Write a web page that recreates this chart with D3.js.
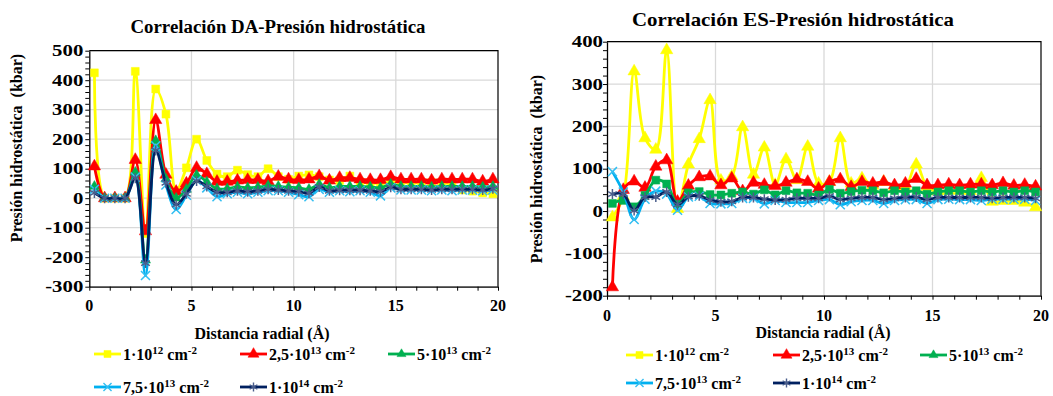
<!DOCTYPE html>
<html><head><meta charset="utf-8">
<script src="https://cdn.jsdelivr.net/npm/d3@7"></script>
<style>
body{margin:0;background:#fff}
svg{display:block}
text{font-family:"Liberation Serif","Times New Roman",serif;font-weight:bold;fill:#000}
</style>
</head><body><svg id="c" width="1053" height="396"></svg>
<script>
// ---------- data ----------
const radialDistance = [0.25,0.75,1.25,1.75,2.25,2.75,3.25,3.75,4.25,4.75,5.25,5.75,6.25,6.75,7.25,7.75,8.25,8.75,9.25,9.75,
  10.25,10.75,11.25,11.75,12.25,12.75,13.25,13.75,14.25,14.75,15.25,15.75,16.25,16.75,17.25,17.75,18.25,18.75,19.25,19.75];

const seriesBase = ["1·10", "2,5·10", "5·10", "7,5·10", "1·10"];
const seriesExp  = ["12", "13", "13", "13", "14"];

// Left chart: Correlación DA
const daTitle = "Correlación DA-Presión hidrostática";
const daYTicks = [-300,-200,-100,0,100,200,300,400,500];
const da_1e12   = [425,0,0,0,430,-120,370,285,25,103,200,128,82,73,95,80,73,100,73,64,75,79,73,62,60,75,55,52,50,58,55,52,52,53,52,48,28,24,18,15];
const da_25e13  = [108,0,0,0,130,-112,265,80,22,50,103,82,56,56,60,62,62,58,73,64,62,64,75,60,69,69,64,62,62,72,64,64,64,60,64,64,64,64,57,64];
const da_5e13   = [40,0,0,0,88,-210,195,65,0,30,78,55,32,32,38,35,37,42,40,37,35,30,47,35,40,40,40,38,35,48,40,40,40,38,40,40,40,40,38,40];
const da_75e13  = [30,0,0,0,72,-262,178,45,-38,10,60,35,5,15,20,15,20,25,25,20,12,5,30,20,25,22,25,20,8,35,28,28,28,25,28,25,28,28,25,28];
const da_1e14   = [18,0,0,0,68,-220,162,52,-22,15,58,40,20,20,25,22,25,30,28,25,22,17,38,25,27,27,27,25,22,37,30,30,30,28,30,30,30,30,28,32];

// Right chart: Correlación ES
const esTitle = "Correlación ES-Presión hidrostática";
const esYTicks = [-200,-100,0,100,200,300,400];
const es_1e12   = [-15,35,330,172,145,380,5,110,170,262,72,82,198,86,150,62,122,73,152,65,69,172,65,77,60,69,57,57,110,57,46,48,48,47,78,22,24,24,20,9];
const es_25e13  = [-180,50,70,55,105,120,22,60,80,82,61,77,47,67,62,59,67,75,69,53,69,75,57,69,65,69,61,65,76,61,61,63,61,63,63,61,66,60,62,58];
const es_5e13   = [18,25,10,37,73,64,16,43,46,39,38,42,45,40,50,38,48,43,42,38,51,42,46,49,48,43,48,45,48,40,45,48,48,45,48,45,48,45,48,45];
const es_75e13  = [93,45,-20,28,47,40,2,33,35,18,17,18,30,30,17,25,20,20,20,25,27,15,22,25,25,18,25,27,27,18,27,28,27,27,25,28,28,28,28,25];
const es_1e14   = [40,40,1,33,33,45,15,34,36,26,22,23,32,32,28,26,27,30,30,30,35,27,30,32,32,27,30,32,33,27,32,32,32,32,32,30,32,32,32,30];

const xTicks = [0,5,10,15,20];
const xLabel = "Distancia radial (Å)";
const yLabel = "Presión hidrostática  (kbar)";

// ---------- styles ----------
const colors = ["#FFFF00","#FF0000","#00B050","#00B0F0","#002060"];
const markerStroke = ["#FFFF00","#FF0000","#00B050","#33BFF2","#4A5E8C"];
const sym = {
  square: {type: d3.symbolSquare, size: 62, fill: true},
  tri: {type: d3.symbolTriangle, size: 66, fill: true},
  triS: {type: d3.symbolTriangle, size: 44, fill: true},
  times: {type: d3.symbolTimes, size: 55, fill: false},
  star: {type: d3.symbolAsterisk, size: 70, fill: false}
};

const svg = d3.select("#c");

function drawChart(cfg) {
  const x = d3.scaleLinear().domain([0,20]).range([cfg.x0, cfg.x1]);
  const y = d3.scaleLinear().domain([cfg.yTicks[0], cfg.yTicks[cfg.yTicks.length-1]]).range([cfg.yBot, cfg.yTop]);
  const g = svg.append("g");

  // gridlines
  g.selectAll(".hg").data(cfg.yTicks).join("line")
    .attr("x1", cfg.x0).attr("x2", cfg.x1)
    .attr("y1", d => y(d)).attr("y2", d => y(d))
    .attr("stroke", "#d9d9d9").attr("stroke-width", 1.3);
  g.selectAll(".vg").data(xTicks.slice(1, -1)).join("line")
    .attr("x1", d => x(d)).attr("x2", d => x(d))
    .attr("y1", cfg.yTop).attr("y2", cfg.yBot)
    .attr("stroke", "#d9d9d9").attr("stroke-width", 1.3);

  // top / right frame
  g.append("path")
    .attr("d", `M${cfg.x0},${cfg.yTop}H${cfg.x1}V${cfg.yBot}`)
    .attr("fill", "none").attr("stroke", "#000").attr("stroke-width", 1.2);

  // y axis with minor ticks every 20
  const yMinor = d3.range(cfg.yTicks[0], cfg.yTicks[cfg.yTicks.length-1] + 1, 20);
  const yAx = g.append("g").attr("transform", `translate(${cfg.x0},0)`)
    .call(d3.axisLeft(y).tickValues(yMinor).tickSize(4).tickSizeOuter(0).tickFormat(""));
  yAx.select(".domain").attr("stroke", "#000").attr("stroke-width", 1.3);
  yAx.selectAll(".tick line").attr("stroke", "#000");

  g.selectAll(".ylab").data(cfg.yTicks).join("text")
    .attr("transform", d => `translate(${cfg.x0 - cfg.yLabPad},${y(d) + 5.5}) scale(1.3,1)`)
    .attr("text-anchor", "end").attr("font-size", 16)
    .text(d => d);

  // x axis with minor ticks every 1
  const xAx = g.append("g").attr("transform", `translate(0,${cfg.yBot})`)
    .call(d3.axisBottom(x).tickValues(d3.range(0, 21, 1)).tickSize(4).tickSizeOuter(0).tickFormat(""));
  xAx.select(".domain").attr("stroke", "#000").attr("stroke-width", 1.3);
  xAx.selectAll(".tick line").attr("stroke", "#000");

  g.selectAll(".xlab").data(xTicks).join("text")
    .attr("x", d => x(d)).attr("y", cfg.xTickY)
    .attr("text-anchor", "middle").attr("font-size", 16)
    .text(d => d);

  // titles
  g.append("text").attr("x", cfg.titleX).attr("y", cfg.titleY)
    .attr("text-anchor", "middle").attr("font-size", cfg.titleSize)
    .attr("textLength", cfg.titleLen).attr("lengthAdjust", "spacingAndGlyphs")
    .text(cfg.title);
  g.append("text").attr("x", cfg.xTitleX).attr("y", cfg.xTitleY)
    .attr("text-anchor", "middle").attr("font-size", 16).text(xLabel);
  g.append("text")
    .attr("transform", `translate(${cfg.yTitleX},${cfg.yTitleY}) rotate(-90)`)
    .attr("text-anchor", "middle").attr("font-size", 16)
    .style("white-space", "pre").text(yLabel);

  // series
  const line = d3.line().x((d, i) => x(radialDistance[i])).y(d => y(d))
    .curve(d3.curveCatmullRom.alpha(0.5));
  cfg.series.forEach((vals, k) => {
    g.append("path").datum(vals).attr("d", line)
      .attr("fill", "none").attr("stroke", colors[k]).attr("stroke-width", 2.8)
      .attr("stroke-linejoin", "round");
    const m = sym[cfg.markers[k]];
    g.selectAll(null).data(vals).join("path")
      .attr("transform", (d, i) => `translate(${x(radialDistance[i])},${y(d)})`)
      .attr("d", d3.symbol().type(m.type).size(m.size))
      .attr("fill", m.fill ? colors[k] : "none")
      .attr("stroke", markerStroke[k]).attr("stroke-width", m.fill ? 0.5 : 1.5);
  });

  // legend
  cfg.legendPos.forEach((p, k) => {
    const lg = g.append("g").attr("transform", `translate(${p[0]},${p[1]})`);
    lg.append("line").attr("x1", 0).attr("x2", 27).attr("y1", 0).attr("y2", 0)
      .attr("stroke", colors[k]).attr("stroke-width", 2.8);
    const m = sym[cfg.legendMarkers[k]];
    lg.append("path").attr("transform", "translate(13.5,0)")
      .attr("d", d3.symbol().type(m.type).size(m.size * 0.8))
      .attr("fill", m.fill ? colors[k] : "none")
      .attr("stroke", markerStroke[k]).attr("stroke-width", m.fill ? 0.5 : 1.4);
    const t = lg.append("text").attr("x", 29).attr("y", 5.5).attr("font-size", 16);
    t.append("tspan").text(seriesBase[k]);
    t.append("tspan").attr("font-size", 11).attr("dy", -6).text(seriesExp[k]);
    t.append("tspan").attr("dy", 6).text(" cm");
    t.append("tspan").attr("font-size", 11).attr("dy", -6).text("-2");
  });
}

drawChart({
  title: daTitle, titleX: 278, titleY: 33, titleSize: 18, titleLen: 295,
  x0: 89.3, x1: 498, yTop: 50.7, yBot: 286.7, yTicks: daYTicks, yLabPad: 6,
  xTickY: 311, xTitleX: 262, xTitleY: 339, yTitleX: 22, yTitleY: 148,
  series: [da_1e12, da_25e13, da_5e13, da_75e13, da_1e14],
  markers: ["square","tri","triS","times","star"],
  legendMarkers: ["square","tri","triS","times","star"],
  legendPos: [[94,354],[240,354],[388,354],[94,387],[240,387]]
});

drawChart({
  title: esTitle, titleX: 793, titleY: 26, titleSize: 19, titleLen: 322,
  x0: 607, x1: 1041, yTop: 41.7, yBot: 295.7, yTicks: esYTicks, yLabPad: 4,
  xTickY: 321, xTitleX: 823, xTitleY: 338, yTitleX: 542, yTitleY: 169,
  series: [es_1e12, es_25e13, es_5e13, es_75e13, es_1e14],
  markers: ["tri","tri","square","times","star"],
  legendMarkers: ["square","tri","triS","times","star"],
  legendPos: [[626,355],[773,355],[920,355],[626,383],[773,383]]
});
</script>
</body></html>
